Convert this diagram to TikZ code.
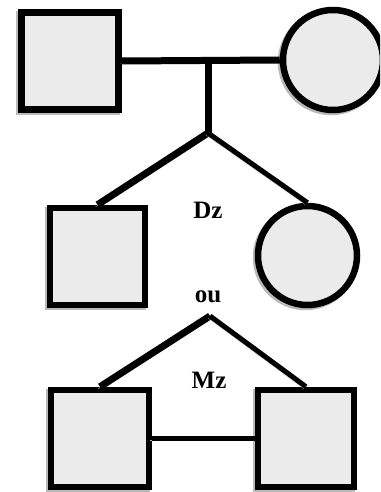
\documentclass[tikz,border=0pt]{standalone}
\usepackage{fontspec}
\setmainfont{Liberation Serif}
\usepackage{tikz}
\usetikzlibrary{shapes,arrows,positioning}

\tikzset{
    ombre/.style={preaction={draw=gray!55,transform canvas={shift={(-2pt,-2pt)}}}},
    carre/.style={rectangle,draw,line width=6.5pt,fill=black!8,inner sep=0pt,minimum width=97pt,minimum height=97pt,ombre},
    rond/.style={circle,draw,line width=6.5pt,fill=black!8,inner sep=0pt,minimum size=99pt,ombre},
    lien/.style={line width=7pt,ombre},
    etiq/.style={font=\fontsize{25}{28}\selectfont\bfseries,inner sep=0pt}
}

\begin{document}
\begin{tikzpicture}[x=1pt,y=-1pt]
    \clip (0,0) rectangle (380,492);
    \useasboundingbox (0,0) rectangle (380,492);

    % parents
    \node[carre] (pere) at (70,61) {};
    \node[rond,minimum size=100pt] (mere) at (333,60) {};
    \draw[lien] (pere.east) -- (mere.west);
    \coordinate (mar) at (208,61);
    \coordinate (fourche) at (208,133);
    \draw[lien] (mar) -- (fourche);

    % dizygotes
    \node[carre,minimum width=95pt] (dzg) at (97.5,256.5) {};
    \node[rond] (dzd) at (307.5,255.5) {};
    \draw[lien] (fourche) -- (dzg.north);
    \draw[lien,line width=5pt] (fourche) -- (dzd.north);
    \node[etiq] (dz) at (208,210) {Dz};

    \node[etiq] (ou) at (208,297) {ou};

    % monozygotes
    \coordinate (sommet) at (210,316);
    \node[carre,minimum width=98pt] (mzg) at (100,438.5) {};
    \node[carre,minimum width=96pt] (mzd) at (306,438.5) {};
    \draw[lien] (sommet) -- (mzg.north);
    \draw[lien,line width=5pt] (sommet) -- (mzd.north);
    \draw[lien,line width=5.5pt] (mzg.east) -- (mzd.west);
    \node[etiq] (mz) at (209,380) {Mz};
\end{tikzpicture}
\end{document}
